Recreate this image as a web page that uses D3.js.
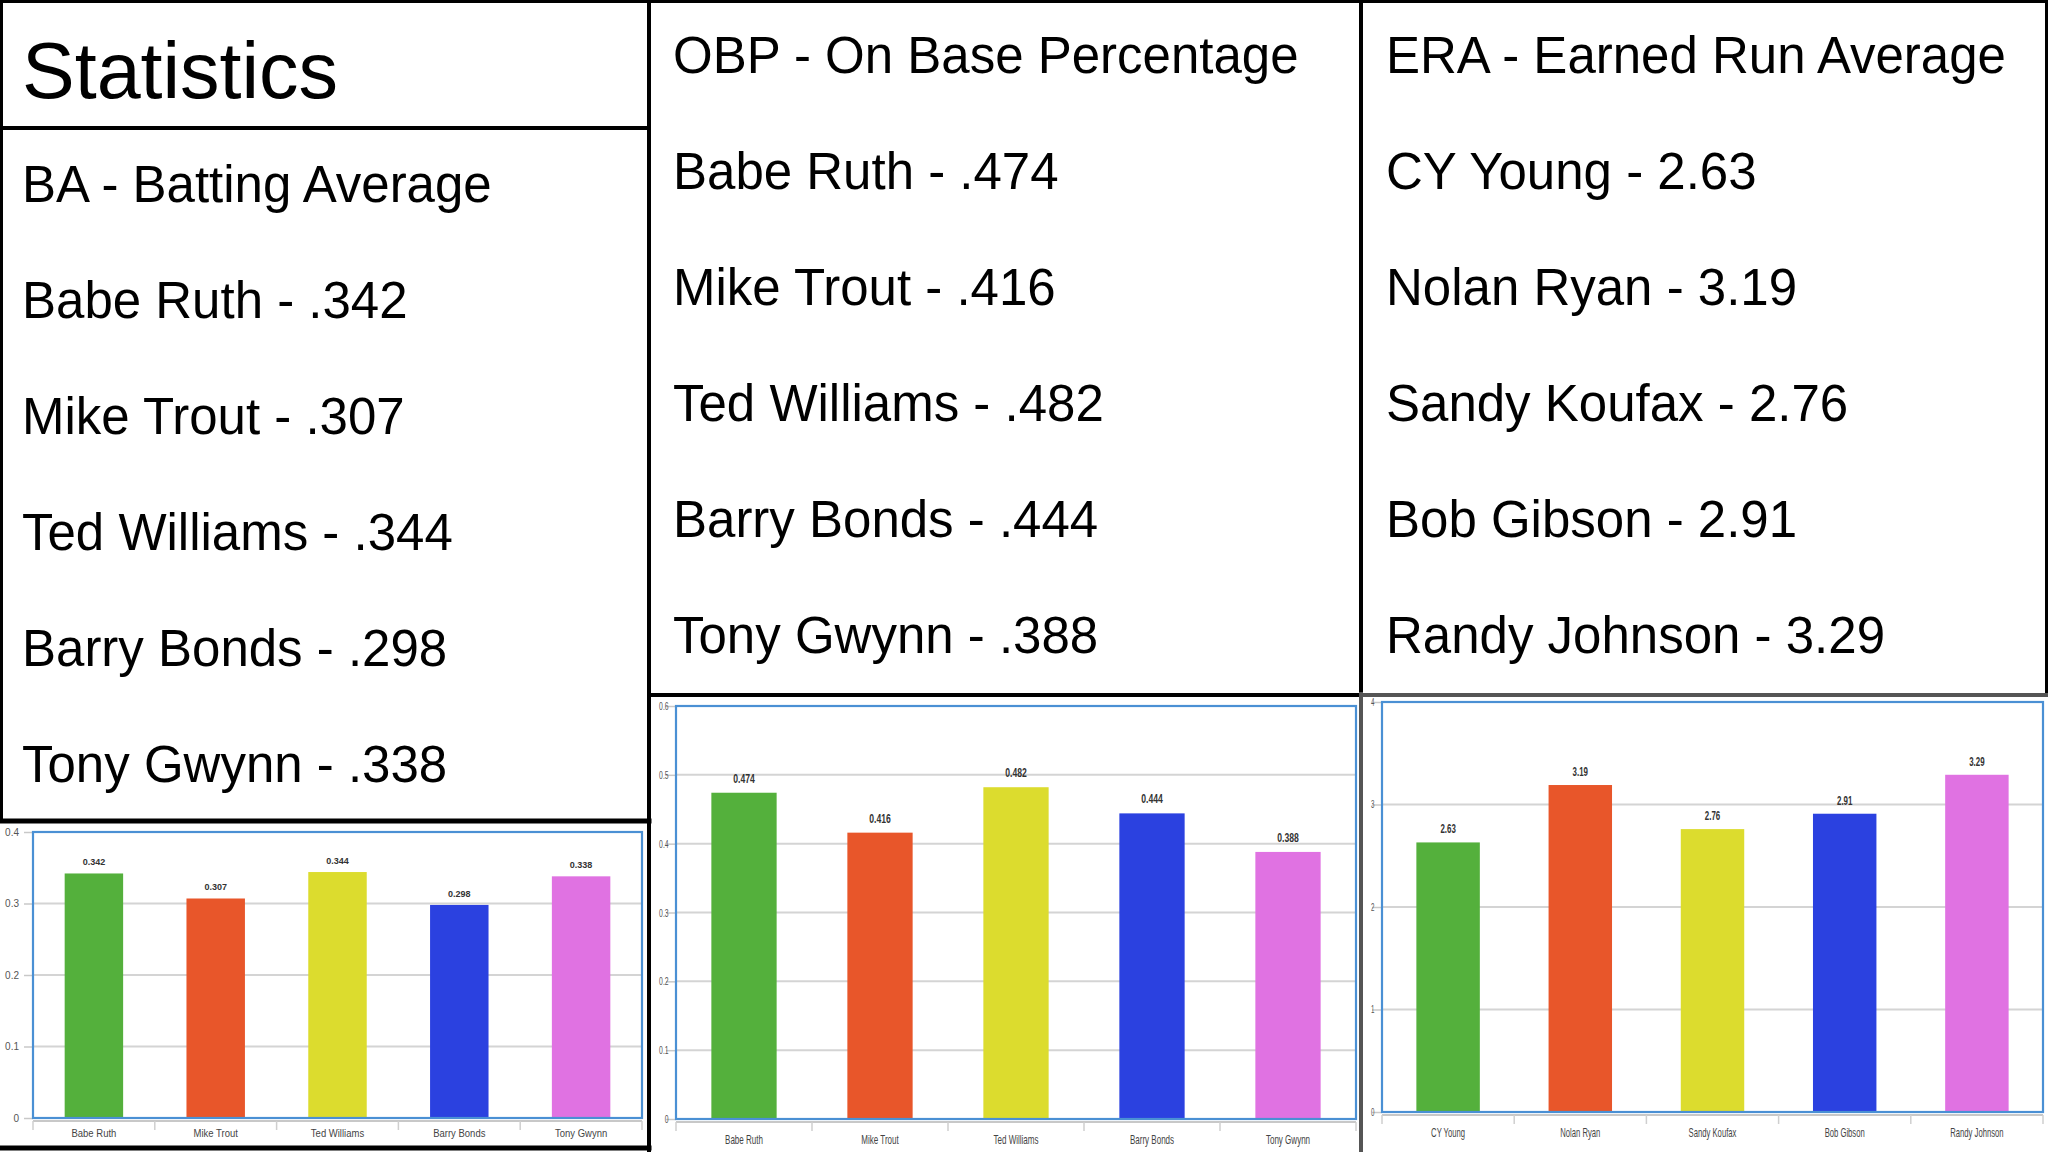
<!DOCTYPE html>
<html><head><meta charset="utf-8">
<script src="https://cdn.jsdelivr.net/npm/d3@7"></script>
<style>
html,body{margin:0;padding:0;background:#fff;}
svg{display:block;}
text{font-family:"Liberation Sans",Arial,Helvetica,sans-serif;}
</style>
</head><body>
<svg id="c" width="2048" height="1152"></svg>
<script>
// ---------- data ----------
const pageTitle = "Statistics";
const baTitle = "BA - Batting Average";
const obpTitle = "OBP - On Base Percentage";
const eraTitle = "ERA - Earned Run Average";
const hitters = ["Babe Ruth", "Mike Trout", "Ted Williams", "Barry Bonds", "Tony Gwynn"];
const baValues = [0.342, 0.307, 0.344, 0.298, 0.338];
const obpValues = [0.474, 0.416, 0.482, 0.444, 0.388];
const pitchers = ["CY Young", "Nolan Ryan", "Sandy Koufax", "Bob Gibson", "Randy Johnson"];
const eraValues = [2.63, 3.19, 2.76, 2.91, 3.29];
const barColors = ["#54b03c", "#e8562a", "#dcdc2e", "#2b41e0", "#e072e2"];
const baTicks = [0, 0.1, 0.2, 0.3, 0.4];
const obpTicks = [0, 0.1, 0.2, 0.3, 0.4, 0.5, 0.6];
const eraTicks = [0, 1, 2, 3, 4];

const svg = d3.select("#c");
svg.append("rect").attr("width", 2048).attr("height", 1152).attr("fill", "#fff");

// ---------- text panels ----------
const avgFmt = v => d3.format(".3f")(v).replace(/^0/, "");
const eraFmt = d3.format(".2f");

svg.append("text").attr("x", 22).attr("y", 98).attr("font-size", 79).attr("fill", "#000").text(pageTitle);

function textColumn(x, y0, title, names, values, fmt) {
  const lines = [title].concat(names.map((n, i) => `${n} - ${fmt(values[i])}`));
  svg.append("g").selectAll("text").data(lines).join("text")
    .attr("x", x).attr("y", (d, i) => y0 + i * 116)
    .attr("font-size", 51).attr("fill", "#000").text(d => d);
}
textColumn(22, 202, baTitle, hitters, baValues, avgFmt);
textColumn(673, 73, obpTitle, hitters, obpValues, avgFmt);
textColumn(1386, 73, eraTitle, pitchers, eraValues, eraFmt);

// ---------- bar charts ----------
function barChart(cfg) {
  const g = svg.append("g");
  const x = d3.scaleBand().domain(cfg.names).range([cfg.x0, cfg.x1])
    .paddingInner(0.52).paddingOuter(0.26);
  const y = d3.scaleLinear().domain([0, cfg.ticks[cfg.ticks.length - 1]]).range([cfg.y1, cfg.y0]);

  // gridlines
  g.append("g").selectAll("line").data(cfg.ticks.slice(1)).join("line")
    .attr("x1", cfg.x0).attr("x2", cfg.x1)
    .attr("y1", d => y(d)).attr("y2", d => y(d))
    .attr("stroke", "#d4d4d4").attr("stroke-width", 2);

  // y axis
  const ya = g.append("g").attr("transform", `translate(${cfg.x0},0)`)
    .call(d3.axisLeft(y).tickValues(cfg.ticks).tickFormat(d3.format("~g"))
      .tickSize(cfg.yTick).tickPadding(cfg.yPad));
  ya.select(".domain").remove();
  ya.selectAll(".tick line").attr("stroke", "#c8c8c8").attr("stroke-width", 1.5);
  ya.selectAll(".tick text").attr("font-size", cfg.yFs).attr("fill", "#555")
    .attr("font-family", "Liberation Sans, Arial, sans-serif")
    .attr("transform", `scale(${cfg.yK},1)`);

  // bars
  g.append("g").selectAll("rect").data(cfg.values).join("rect")
    .attr("x", (d, i) => x(cfg.names[i])).attr("width", x.bandwidth())
    .attr("y", d => y(d)).attr("height", d => y(0) - y(d))
    .attr("fill", (d, i) => barColors[i]);

  // value labels
  g.append("g").selectAll("text").data(cfg.values).join("text")
    .attr("transform", (d, i) => `translate(${x(cfg.names[i]) + x.bandwidth() / 2},${y(d) - cfg.vGap}) scale(${cfg.vK},1)`)
    .attr("text-anchor", "middle").attr("font-size", cfg.vFs).attr("font-weight", "bold")
    .attr("fill", "#333").text(d => cfg.fmt(d));

  // x axis baseline + boundary ticks
  g.append("line").attr("x1", cfg.x0).attr("x2", cfg.x1)
    .attr("y1", cfg.y1 + 3).attr("y2", cfg.y1 + 3)
    .attr("stroke", "#c8c8c8").attr("stroke-width", 2);
  const bounds = cfg.names.map(n => x(n) - (x.step() - x.bandwidth()) / 2).concat([cfg.x1]);
  g.append("g").selectAll("line").data(bounds).join("line")
    .attr("x1", d => d).attr("x2", d => d)
    .attr("y1", cfg.y1 + 3).attr("y2", cfg.y1 + 12)
    .attr("stroke", "#cfcfcf").attr("stroke-width", 1.5);

  const xa = g.append("g").attr("transform", `translate(0,${cfg.y1})`)
    .call(d3.axisBottom(x).tickSize(0).tickPadding(cfg.xPad));
  xa.select(".domain").remove();
  xa.selectAll(".tick text").attr("font-size", cfg.xFs).attr("fill", "#444")
    .attr("font-family", "Liberation Sans, Arial, sans-serif")
    .attr("transform", `scale(${cfg.xK},1)`);

  // frame
  g.append("rect").attr("x", cfg.x0).attr("y", cfg.y0)
    .attr("width", cfg.x1 - cfg.x0).attr("height", cfg.y1 - cfg.y0)
    .attr("fill", "none").attr("stroke", "#4a90d4").attr("stroke-width", 2.2);
}

barChart({ names: hitters, values: baValues, ticks: baTicks, fmt: d3.format(".3f"),
  x0: 33, x1: 642, y0: 832, y1: 1118,
  yTick: 9, yPad: 5, yFs: 10, yK: 1,
  xPad: 12, xFs: 10, xK: 0.95,
  vGap: 8, vFs: 9, vK: 1 });

barChart({ names: hitters, values: obpValues, ticks: obpTicks, fmt: d3.format(".3f"),
  x0: 676, x1: 1356, y0: 706, y1: 1119,
  yTick: 10, yPad: 2, yFs: 11, yK: 0.62,
  xPad: 16, xFs: 12, xK: 0.67,
  vGap: 10, vFs: 12, vK: 0.72 });

barChart({ names: pitchers, values: eraValues, ticks: eraTicks, fmt: d3.format(".2f"),
  x0: 1382, x1: 2043, y0: 702, y1: 1112,
  yTick: 10, yPad: 2, yFs: 10, yK: 0.62,
  xPad: 16, xFs: 12, xK: 0.64,
  vGap: 9, vFs: 12, vK: 0.66 });

// ---------- borders ----------
const borders = svg.append("g").attr("stroke-linecap", "square");
function seg(x1, y1, x2, y2, w, c) {
  borders.append("line").attr("x1", x1).attr("y1", y1).attr("x2", x2).attr("y2", y2)
    .attr("stroke", c || "#000").attr("stroke-width", w);
}
seg(0, 1.5, 2048, 1.5, 3);          // top
seg(1.5, 0, 1.5, 821, 3);           // left
seg(2046.5, 0, 2046.5, 694, 3);     // right
seg(649, 0, 649, 1152, 4);          // divider 1
seg(1361, 0, 1361, 694, 4);         // divider 2 (upper)
seg(1361, 694, 1361, 1152, 4, "#555"); // divider 2 (lower)
seg(0, 128, 649, 128, 4);           // under title
seg(0, 821, 649, 821, 5);           // above left chart
seg(0, 1148, 649, 1148, 5);         // below left chart
seg(649, 695, 1361, 695, 4);        // above middle chart
seg(1361, 695, 2048, 695, 4, "#555"); // above right chart
</script>
</body></html>
